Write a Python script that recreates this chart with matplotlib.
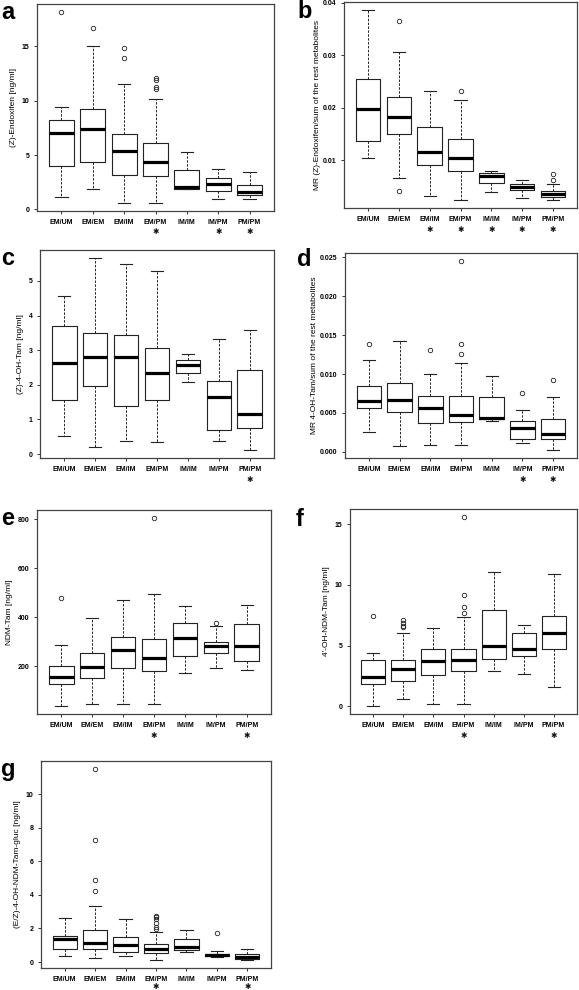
import matplotlib
matplotlib.use("Agg")
import matplotlib.pyplot as plt
import matplotlib.transforms as mtransforms

plt.rcParams['font.family'] = ['Liberation Sans', 'DejaVu Sans']

W, H = 579, 990

groups = ["EM/UM", "EM/EM", "EM/IM", "EM/PM", "IM/IM", "IM/PM", "PM/PM"]

# five-number summaries per genotype: whisker low, q1, median, q3, whisker high
a_stats = [[1.15, 4.03, 7.0, 8.18, 9.45],
           [1.9, 4.33, 7.36, 9.27, 15.0],
           [0.55, 3.12, 5.39, 6.97, 11.55],
           [0.6, 3.03, 4.39, 6.09, 10.18],
           [1.85, 1.9, 2.06, 3.64, 5.24],
           [0.94, 1.7, 2.3, 2.9, 3.73],
           [0.91, 1.3, 1.6, 2.27, 3.45]]
a_out = [[18.2], [16.7], [13.9, 14.85], [11.1, 11.3, 11.9, 12.1], [], [], []]

b_stats = [[0.0104, 0.0136, 0.0197, 0.0254, 0.0387],
           [0.0065, 0.0149, 0.0183, 0.0220, 0.0306],
           [0.0031, 0.0091, 0.0115, 0.0163, 0.0232],
           [0.0023, 0.0080, 0.0104, 0.0140, 0.0214],
           [0.0039, 0.0056, 0.0069, 0.0075, 0.0080],
           [0.0027, 0.0042, 0.0048, 0.0055, 0.0062],
           [0.0023, 0.0030, 0.0035, 0.0040, 0.0054]]
b_out = [[], [0.0040, 0.0365], [], [0.0232], [], [], [0.0062, 0.0073]]

c_stats = [[0.51, 1.55, 2.64, 3.69, 4.57],
           [0.21, 1.96, 2.81, 3.49, 5.67],
           [0.39, 1.38, 2.79, 3.45, 5.49],
           [0.34, 1.56, 2.34, 3.06, 5.30],
           [2.09, 2.33, 2.57, 2.72, 2.88],
           [0.37, 0.69, 1.66, 2.12, 3.31],
           [0.11, 0.75, 1.15, 2.44, 3.57]]
c_out = [[], [], [], [], [], [], []]

d_stats = [[0.00256, 0.0056, 0.0065, 0.0085, 0.0118],
           [0.00068, 0.0051, 0.0067, 0.0089, 0.0143],
           [0.00085, 0.0037, 0.0056, 0.0072, 0.0100],
           [0.00085, 0.0038, 0.0047, 0.0072, 0.0114],
           [0.0040, 0.0042, 0.0044, 0.0071, 0.0098],
           [0.0011, 0.0016, 0.0031, 0.0040, 0.0054],
           [0.00017, 0.0017, 0.0023, 0.0042, 0.0071]]
d_out = [[0.0139], [], [0.0131], [0.0126, 0.0139, 0.0246], [], [0.0076], [0.0092]]

e_stats = [[35, 126, 154, 200, 286],
           [46, 152, 197, 252, 398],
           [46, 192, 264, 318, 469],
           [46, 181, 231, 309, 494],
           [171, 242, 313, 378, 445],
           [193, 253, 281, 298, 365],
           [184, 222, 284, 373, 450]]
e_out = [[480], [], [], [807], [], [374], []]

f_stats = [[0.0, 1.82, 2.4, 3.8, 4.38],
           [0.61, 2.12, 3.09, 3.83, 6.07],
           [0.19, 2.62, 3.72, 4.71, 6.45],
           [0.19, 2.92, 3.8, 4.71, 7.36],
           [2.92, 3.92, 4.94, 7.97, 11.03],
           [2.67, 4.16, 4.71, 6.07, 6.7],
           [1.6, 4.74, 6.01, 7.47, 10.92]]
f_out = [[7.44], [6.5, 6.6, 6.85, 7.1], [], [7.69, 8.22, 9.18, 15.63], [], [], []]

g_stats = [[0.34, 0.76, 1.39, 1.55, 2.64],
           [0.24, 0.78, 1.15, 1.89, 3.36],
           [0.34, 0.62, 1.01, 1.51, 2.56],
           [0.12, 0.52, 0.80, 1.05, 1.81],
           [0.58, 0.72, 0.89, 1.39, 1.89],
           [0.28, 0.33, 0.41, 0.50, 0.63],
           [0.10, 0.20, 0.32, 0.46, 0.78]]
g_out = [[], [4.25, 4.89, 7.24, 11.51], [], [1.95, 2.1, 2.3, 2.55, 2.65, 2.75], [], [1.73], []]

# significance marks (index into groups)
a_sig = [3, 5, 6]
b_sig = [2, 3, 4, 5, 6]
c_sig = [6]
d_sig = [5, 6]
e_sig = [3, 6]
f_sig = [3, 6]
g_sig = [3, 6]

# letter, stats, outliers, marks, y label, y ticks, tick format, axes box (px), letter pos (px), star offset (px), label pad
panels = [
    ("a", a_stats, a_out, a_sig, "(Z)-Endoxifen [ng/ml]", [0, 5, 10, 15], "{:g}", (37, 4, 274, 211), (1, 1), 21, 3),
    ("b", b_stats, b_out, b_sig, "MR (Z)-Endoxifen/sum of the rest metabolites", [0.01, 0.02, 0.03, 0.04], "{:.2f}", (344, 2, 577, 208), (297, 0), 21, 1),
    ("c", c_stats, c_out, c_sig, "(Z)-4-OH-Tam [ng/ml]", [0, 1, 2, 3, 4, 5], "{:g}", (40, 250, 274, 458), (1, 247), 21, 3),
    ("d", d_stats, d_out, d_sig, "MR 4-OH-Tam/sum of the rest metabolites", [0, 0.005, 0.01, 0.015, 0.02, 0.025], "{:.3f}", (345, 253, 577, 458), (297, 248), 21, 1),
    ("e", e_stats, e_out, e_sig, "NDM-Tam [ng/ml]", [200, 400, 600, 800], "{:g}", (37, 510, 271, 714), (1, 507), 21, 3),
    ("f", f_stats, f_out, f_sig, "4'-OH-NDM-Tam [ng/ml]", [0, 5, 10, 15], "{:g}", (350, 509, 577, 714), (296, 508), 21, 3),
    ("g", g_stats, g_out, g_sig, "(E/Z)-4-OH-NDM-Tam-gluc [ng/ml]", [0, 2, 4, 6, 8, 10], "{:g}", (41, 761, 271, 968), (1, 758), 18.5, 3),
]

fig = plt.figure(figsize=(W / 100, H / 100), dpi=100)
fig.patch.set_facecolor("white")

for letter, stats, outs, sig, ylabel, yticks, fmt, box, lpos, star_off, lpad in panels:
    l, t, r, b = box
    ax = fig.add_axes([l / W, 1 - b / H, (r - l) / W, (b - t) / H])

    bxp_stats = []
    for name, s, fl in zip(groups, stats, outs):
        bxp_stats.append({"label": name, "whislo": s[0], "q1": s[1], "med": s[2],
                          "q3": s[3], "whishi": s[4], "fliers": fl})

    ax.bxp(bxp_stats, positions=range(1, 8), widths=0.8, capwidths=0.4,
           showfliers=True,
           boxprops=dict(color="#222222", linewidth=0.8),
           whiskerprops=dict(color="#222222", linewidth=0.7, linestyle=(0, (2.5, 1.5))),
           capprops=dict(color="#222222", linewidth=0.8),
           medianprops=dict(color="black", linewidth=2.3, solid_capstyle="butt"),
           flierprops=dict(marker="o", markerfacecolor="none", markeredgecolor="#222222",
                           markersize=3.2, markeredgewidth=0.6))

    # R-style 4% axis padding
    lo = min(min(s[0] for s in stats), min([min(o) for o in outs if o] + [1e9]))
    hi = max(max(s[4] for s in stats), max([max(o) for o in outs if o] + [-1e9]))
    pad = (hi - lo) * 0.04
    ax.set_ylim(lo - pad, hi + pad)
    ax.set_xlim(0.22, 7.78)

    ax.set_yticks(yticks)
    ax.set_yticklabels([fmt.format(v) for v in yticks], fontsize=5, fontweight="bold")
    ax.set_xticks(range(1, 8))
    ax.set_xticklabels(groups, fontsize=5, fontweight="bold")
    ax.tick_params(axis="both", length=2.5, width=0.7, color="#333333")
    ax.tick_params(axis="y", pad=3.0)
    ax.tick_params(axis="x", pad=3.0)
    for sp in ax.spines.values():
        sp.set_linewidth(0.9)
        sp.set_color("#444444")

    ax.set_ylabel(ylabel, fontsize=6, labelpad=lpad)

    trans = mtransforms.blended_transform_factory(ax.transData, ax.transAxes)
    for i in sig:
        ax.text(i + 1, -star_off / (b - t), "\u2731", transform=trans, ha="center", va="center",
                fontsize=5.5, family="DejaVu Sans", color="#111111")

    fig.text(lpos[0] / W, 1 - lpos[1] / H, letter, fontsize=17, fontweight="bold",
             ha="left", va="top")

fig.savefig("out.png", dpi=100)
